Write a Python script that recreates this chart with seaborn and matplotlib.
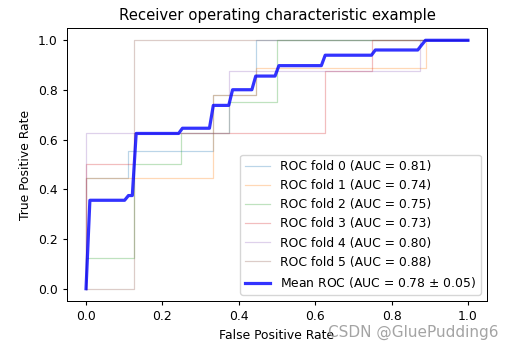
import matplotlib
matplotlib.use("Agg")
import matplotlib.pyplot as plt
import seaborn as sns

# ROC points for each CV fold
fold_fpr = [
    [0, 0, 0.111, 0.111, 0.333, 0.333, 0.444, 0.444, 1],
    [0, 0, 0.333, 0.333, 0.444, 0.444, 0.889, 0.889, 1],
    [0, 0, 0.125, 0.125, 0.25, 0.25, 0.375, 0.375, 0.5, 0.5, 1],
    [0, 0, 0.125, 0.125, 0.625, 0.625, 0.75, 0.75, 1],
    [0, 0, 0.375, 0.375, 0.875, 0.875, 1],
    [0, 0.125, 0.125, 1],
]
fold_tpr = [
    [0, 0.444, 0.444, 0.556, 0.556, 0.778, 0.778, 1, 1],
    [0, 0.444, 0.444, 0.778, 0.778, 0.889, 0.889, 1, 1],
    [0, 0.125, 0.125, 0.5, 0.5, 0.625, 0.625, 0.75, 0.75, 1, 1],
    [0, 0.5, 0.5, 0.625, 0.625, 0.875, 0.875, 1, 1],
    [0, 0.625, 0.625, 0.875, 0.875, 1, 1],
    [0, 0, 1, 1],
]
fold_auc = [0.81, 0.74, 0.75, 0.73, 0.80, 0.88]

# mean ROC curve vertices
mean_fpr = [0, 0.0101, 0.1010, 0.1111, 0.1212, 0.1313, 0.2424, 0.2525,
            0.3232, 0.3333, 0.3737, 0.3838, 0.4343, 0.4444, 0.4949, 0.5051,
            0.6162, 0.6263, 0.7475, 0.7576, 0.8687, 0.8788, 0.8889, 1.0]
mean_tpr = [0, 0.356, 0.356, 0.375, 0.375, 0.625, 0.625, 0.646,
            0.646, 0.738, 0.738, 0.801, 0.801, 0.856, 0.856, 0.898,
            0.898, 0.940, 0.940, 0.961, 0.961, 0.981, 1.0, 1.0]
mean_auc = 0.78
std_auc = 0.05

s = 0.89  # source image was rendered at a bit under 100 dpi
plt.rcParams["font.size"] = 10 * s
plt.rcParams["xtick.major.size"] = 3.5 * s
plt.rcParams["ytick.major.size"] = 3.5 * s
plt.rcParams["axes.linewidth"] = 0.8 * s

fig, ax = plt.subplots(figsize=(5.11, 3.53), dpi=100)
fig.subplots_adjust(left=0.131, right=0.953, bottom=0.147, top=0.921)

for i in range(len(fold_fpr)):
    sns.lineplot(x=fold_fpr[i], y=fold_tpr[i], sort=False, estimator=None,
                 ax=ax, color=f"C{i}", lw=1 * s, alpha=0.3,
                 label=f"ROC fold {i} (AUC = {fold_auc[i]:.2f})")

sns.lineplot(x=mean_fpr, y=mean_tpr, sort=False, estimator=None, ax=ax,
             color="b", lw=2.3, alpha=0.8,
             label=f"Mean ROC (AUC = {mean_auc:.2f} $\\pm$ {std_auc:.2f})")

ax.set_xlim(-0.05, 1.05)
ax.set_ylim(-0.05, 1.05)
ax.set_xlabel("False Positive Rate")
ax.set_ylabel("True Positive Rate")
ax.set_title("Receiver operating characteristic example", fontsize=12 * s)
ax.legend(loc="lower right")

fig.text(0.975, 0.058, "CSDN @GluePudding6", ha="right", va="center",
         fontsize=11, color="#9a9a9a", alpha=0.9)

plt.savefig("out.png", dpi=100)
